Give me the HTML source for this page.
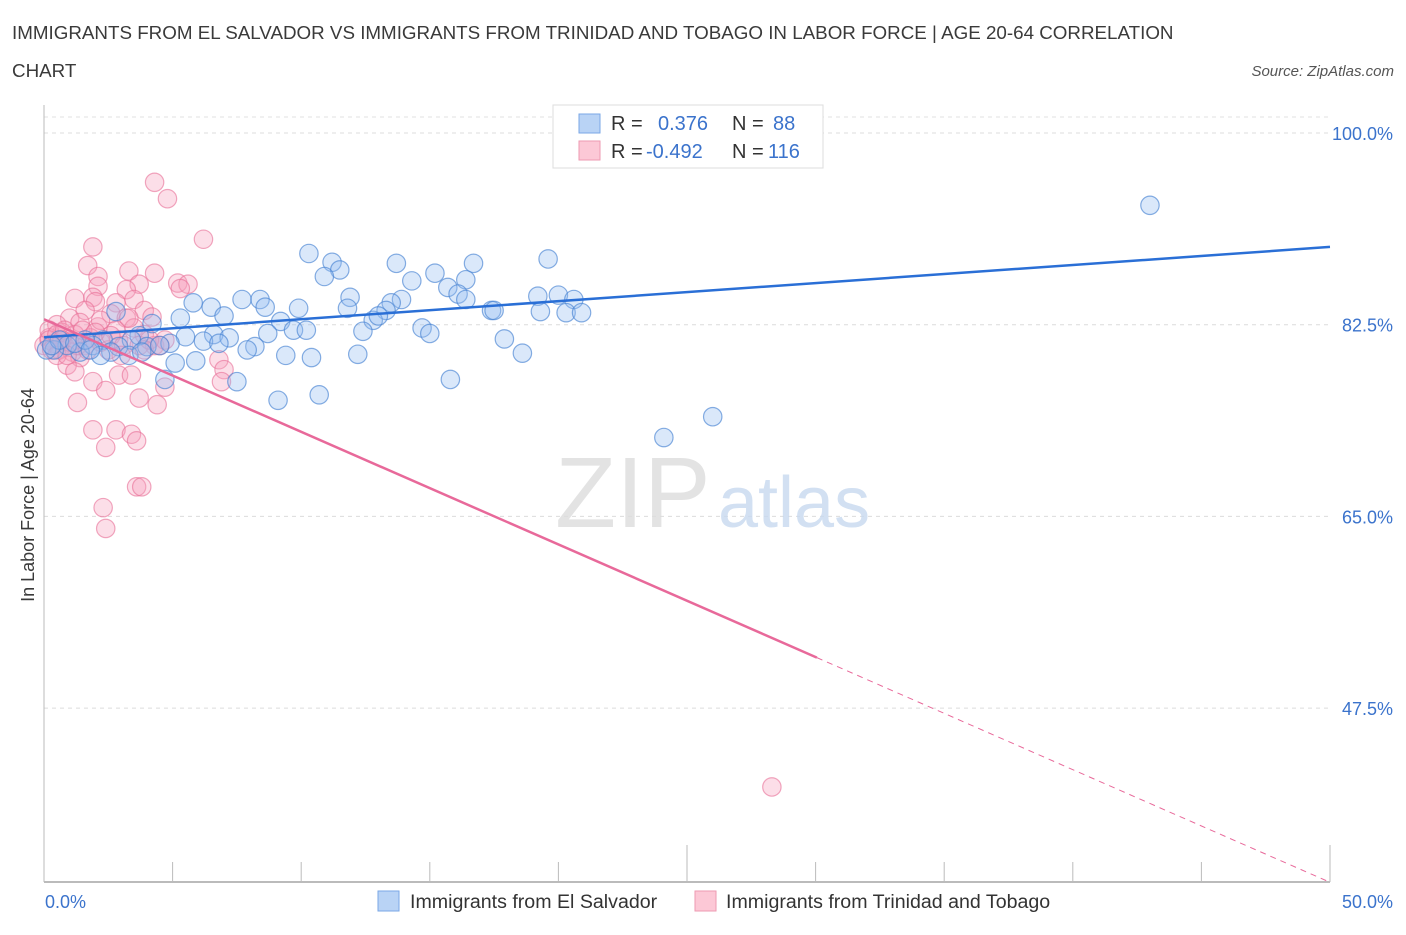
<!DOCTYPE html>
<html><head><meta charset="utf-8"><style>
body{margin:0;background:#fff;font-family:"Liberation Sans",sans-serif;}
svg text{font-family:"Liberation Sans",sans-serif;}
</style></head><body>
<svg id="chart" width="1406" height="930" viewBox="0 0 1406 930" xmlns="http://www.w3.org/2000/svg">
<text x="12" y="39" font-size="18.8" fill="#3a3a3a">IMMIGRANTS FROM EL SALVADOR VS IMMIGRANTS FROM TRINIDAD AND TOBAGO IN LABOR FORCE | AGE 20-64 CORRELATION</text>
<text x="12" y="77" font-size="18.8" fill="#3a3a3a">CHART</text>
<text x="1394" y="76" font-size="15" fill="#555" text-anchor="end" font-style="italic">Source: ZipAtlas.com</text>
<g id="grid"></g>
<text x="555" y="527" font-size="100" fill="#ddd" font-family="Liberation Serif" opacity="0.8">ZIP</text>
<text x="718" y="527" font-size="72" fill="#c8d9ef" opacity="0.8">atlas</text>
<g id="axes"></g>
<g id="pink"></g>
<g id="blue"></g>
<g id="lines"></g>
<text transform="translate(34,495) rotate(-90)" font-size="18" fill="#3a3a3a" text-anchor="middle">In Labor Force | Age 20-64</text>
<g>
<rect x="553" y="105" width="270" height="63" fill="#fff" stroke="#ddd"/>
<rect x="579" y="114" width="21" height="19" fill="#b9d3f5" stroke="#7aa7e6"/>
<rect x="579" y="141" width="21" height="19" fill="#fcc8d6" stroke="#ee9ab2"/>
<text x="611" y="130" font-size="20" fill="#333">R =</text>
<text x="658" y="130" font-size="20" fill="#3b73cc">0.376</text>
<text x="732" y="130" font-size="20" fill="#333">N =</text>
<text x="773" y="130" font-size="20" fill="#3b73cc">88</text>
<text x="611" y="158" font-size="20" fill="#333">R =</text>
<text x="646" y="158" font-size="20" fill="#3b73cc">-0.492</text>
<text x="732" y="158" font-size="20" fill="#333">N =</text>
<text x="768" y="158" font-size="20" fill="#3b73cc">116</text>
</g>
<g>
<rect x="378" y="891" width="21" height="20" fill="#b9d3f5" stroke="#7aa7e6"/>
<text x="410" y="908" font-size="19.6" fill="#333">Immigrants from El Salvador</text>
<rect x="695" y="891" width="21" height="20" fill="#fcc8d6" stroke="#ee9ab2"/>
<text x="726" y="908" font-size="19.6" fill="#333">Immigrants from Trinidad and Tobago</text>
</g>
</svg>
<script>
const yTicks=[100,82.5,65,47.5];
const xTickLabels=["0.0%","50.0%"];
const blueX=[43.0,10.3,19.6,11.2,16.7,13.7,11.5,15.2,10.9,14.3,16.4,15.7,16.1,19.2,20.0,11.9,7.7,8.4,13.9,16.4,20.6,5.8,6.5,8.6,9.9,11.8,13.5,13.3,17.4,19.3,20.3,20.9,17.5,2.8,5.3,7.0,12.8,13.0,9.2,4.2,14.7,9.7,10.2,15.0,12.4,6.6,8.7,5.5,7.2,3.7,17.9,2.3,3.4,4.9,6.2,6.8,8.2,7.9,4.0,4.5,2.9,1.9,9.4,10.4,12.2,18.6,1.4,0.9,0.4,0.1,3.3,5.1,5.9,2.6,4.7,7.5,15.8,9.1,10.7,24.1,26.0,0.6,1.2,3.8,2.2,1.6,0.3,1.8];
const blueY=[93.4,89.0,88.5,88.2,88.1,88.1,87.5,87.2,86.9,86.5,86.6,85.9,85.3,85.1,85.2,85.0,84.8,84.8,84.8,84.8,84.8,84.5,84.1,84.1,84.0,84.0,84.5,83.8,83.8,83.7,83.6,83.6,83.8,83.7,83.1,83.3,82.9,83.3,82.8,82.6,82.2,82.0,82.0,81.7,81.9,81.6,81.7,81.4,81.3,81.5,81.2,81.1,81.1,80.8,81.0,80.8,80.5,80.2,80.5,80.6,80.5,80.6,79.7,79.5,79.8,79.9,80.0,80.6,80.2,80.2,79.7,79.0,79.2,80.0,77.5,77.3,77.5,75.6,76.1,72.2,74.1,81.1,80.8,80.0,79.7,81.1,80.6,80.2];
const pinkX=[4.3,4.8,6.2,1.9,1.7,3.3,4.3,2.1,5.2,5.6,3.7,2.1,3.2,1.9,1.2,2.8,3.5,2.0,1.6,3.9,5.3,2.6,3.2,4.2,1.0,0.5,1.4,2.1,2.8,3.5,3.9,0.7,1.2,1.8,0.2,0.4,0.8,0.0,0.6,1.1,1.6,2.2,2.9,4.3,4.7,2.5,1.4,0.9,1.2,1.9,2.4,3.7,2.9,3.4,4.7,1.3,4.4,1.9,2.8,3.4,3.6,2.4,3.6,3.8,2.3,2.4,28.3,6.8,7.0,6.9,3.3,2.2,0.2,0.2,0.5,0.8,1.5,2.0,0.3,0.7,1.0,1.3,1.7,0.5,0.9,2.6,3.1,3.7,4.1,3.0,3.9,4.5];
const pinkY=[95.5,94.0,90.3,89.6,87.9,87.4,87.2,86.9,86.3,86.2,86.2,86.0,85.7,85.0,84.9,84.5,84.8,84.6,83.8,83.8,85.8,83.5,83.1,83.2,83.1,82.5,82.7,82.3,82.0,82.2,81.6,81.8,81.6,81.3,81.3,80.8,80.6,80.6,80.2,80.0,80.6,80.9,81.1,80.6,81.1,80.2,79.5,78.8,78.2,77.3,76.5,75.8,77.9,77.9,76.8,75.4,75.2,72.9,72.9,72.5,71.9,71.3,67.7,67.7,65.8,63.9,40.3,79.3,78.4,77.3,83.1,82.9,82.0,81.1,81.6,82.0,82.0,81.8,80.2,81.1,80.9,80.6,80.2,79.7,79.7,81.5,80.6,80.6,81.1,79.7,80.2,80.6];
const blueTrend=[81.35,89.6];
const pinkTrend=[83.0,31.6];
const pinkSolidEnd=30.05;

const NS="http://www.w3.org/2000/svg";
const X0=44,X1=1330,Y100=133,PXPER=191.7/17.5;
function xs(v){return X0+(v/50)*(X1-X0);}
function ys(v){return Y100+(100-v)*PXPER;}
function mk(tag,attrs,parent){const e=document.createElementNS(NS,tag);for(const k in attrs)e.setAttribute(k,attrs[k]);parent.appendChild(e);return e;}
const grid=document.getElementById('grid'),axes=document.getElementById('axes');
mk('line',{x1:X0,x2:X1,y1:117,y2:117,stroke:'#e2e2e2','stroke-dasharray':'4,4'},grid);
yTicks.forEach(t=>{
 const g=mk('line',{x1:X0,x2:X1,y1:ys(t),y2:ys(t),stroke:'#dcdcdc','stroke-dasharray':'4,4'},grid);
 
 
 const tx=mk('text',{x:1393,y:ys(t)+7,'font-size':18,fill:'#3b73cc','text-anchor':'end'},axes);
 tx.textContent=t.toFixed(1)+'%';
 
 
});
mk('line',{x1:X0,x2:X0,y1:105,y2:882,stroke:'#bbb'},axes);
mk('line',{x1:X0,x2:X1,y1:882,y2:882,stroke:'#bbb','stroke-width':2},axes);
for(let i=0;i<=10;i++){
 const x=X0+i*(X1-X0)/10;
 const tall=(i==5||i==10);
 const tk=mk('line',{x1:x,x2:x,y1:tall?845:862,y2:882,stroke:'#bbb'},axes);
 
 
}
const l0=mk('text',{x:45,y:908,'font-size':18,fill:'#3b73cc'},axes);l0.textContent=xTickLabels[0];


const l1=mk('text',{x:1393,y:908,'font-size':18,fill:'#3b73cc','text-anchor':'end'},axes);l1.textContent=xTickLabels[1];


const pg=document.getElementById('pink');
pinkX.forEach((v,i)=>{const c=mk('circle',{cx:xs(v),cy:ys(pinkY[i]),r:9.2,fill:'rgba(246,160,188,0.35)',stroke:'rgba(232,110,150,0.6)','stroke-width':1.2},pg);
 
 });
const bg=document.getElementById('blue');
blueX.forEach((v,i)=>{const c=mk('circle',{cx:xs(v),cy:ys(blueY[i]),r:9.2,fill:'rgba(150,190,240,0.35)',stroke:'rgba(70,130,210,0.65)','stroke-width':1.2},bg);
 
 });
const lg=document.getElementById('lines');
const bl=mk('line',{x1:xs(0),y1:ys(blueTrend[0]),x2:xs(50),y2:ys(blueTrend[1]),stroke:'#2a6fd6','stroke-width':2.5},lg);


const slope=(pinkTrend[1]-pinkTrend[0])/50;
const ym=pinkTrend[0]+slope*pinkSolidEnd;
const pl=mk('line',{x1:xs(0),y1:ys(pinkTrend[0]),x2:xs(pinkSolidEnd),y2:ys(ym),stroke:'#e8699a','stroke-width':2.5},lg);


const pd=mk('line',{x1:xs(pinkSolidEnd),y1:ys(ym),x2:xs(50),y2:ys(pinkTrend[1]),stroke:'#e8699a','stroke-width':1,'stroke-dasharray':'6,5'},lg);


</script>
</body></html>
